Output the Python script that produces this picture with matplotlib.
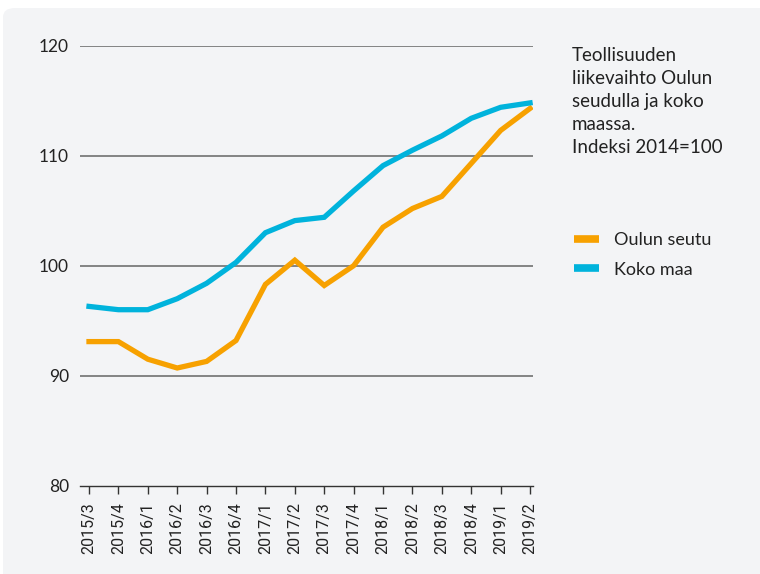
import matplotlib
matplotlib.use('Agg')
import matplotlib.pyplot as plt
import matplotlib.patches as mpatch
from matplotlib.lines import Line2D

# quarters on the x axis
quarters = ['2015/3', '2015/4', '2016/1', '2016/2', '2016/3', '2016/4',
            '2017/1', '2017/2', '2017/3', '2017/4', '2018/1', '2018/2',
            '2018/3', '2018/4', '2019/1', '2019/2']

# index 2014=100
oulun_seutu = [93.1, 93.1, 91.5, 90.7, 91.3, 93.2, 98.3, 100.5,
               98.2, 100.0, 103.5, 105.2, 106.3, 109.3, 112.3, 114.3]
koko_maa = [96.3, 96.0, 96.0, 97.0, 98.4, 100.3, 103.0, 104.1,
            104.4, 106.8, 109.1, 110.5, 111.8, 113.4, 114.4, 114.8]

y_ticks = [80, 90, 100, 110, 120]

title_text = 'Teollisuuden\nliikevaihto Oulun\nseudulla ja koko\nmaassa.\nIndeksi 2014=100'
series_names = ['Oulun seutu', 'Koko maa']

orange = '#f7a100'
blue = '#00b3dc'
panel = '#f3f4f6'

W, H = 760, 574
fig = plt.figure(figsize=(W / 100, H / 100), dpi=100)
fig.patch.set_facecolor('white')

# light grey rounded panel behind everything
bg = mpatch.FancyBboxPatch((3 / W, -0.05), 1.1, (H - 8) / H + 0.05,
                           boxstyle='round,pad=0,rounding_size=0.016',
                           transform=fig.transFigure, facecolor=panel,
                           edgecolor='none', zorder=-5)
fig.patches.append(bg)

ax = fig.add_axes([80 / W, 1 - 485.7 / H, (533 - 80) / W, (485.7 - 45.7) / H])
ax.set_facecolor('none')
ax.set_zorder(2)

x = list(range(len(quarters)))
ax.plot(x, oulun_seutu, color=orange, linewidth=3.8, solid_joinstyle='miter', zorder=3)
ax.plot(x, koko_maa, color=blue, linewidth=3.8, solid_joinstyle='miter', zorder=3)

ax.set_xlim(-0.306, 15.1)
ax.set_ylim(80, 120)

for v in y_ticks[1:]:
    ax.axhline(v, color='#707070', linewidth=1.2, zorder=1)

for s in ['top', 'right', 'left']:
    ax.spines[s].set_visible(False)
ax.spines['bottom'].set_color('#333333')
ax.spines['bottom'].set_linewidth(1.0)

ax.set_yticks(y_ticks)
ax.set_yticklabels([str(v) for v in y_ticks], fontsize=12.5, fontfamily='Lato', color='#222222')
ax.tick_params(axis='y', length=0, pad=8)

ax.set_xticks(x)
ax.set_xticklabels(quarters, rotation=90, fontsize=11.5,
                   fontfamily=['Liberation Sans Narrow', 'Roboto'], color='#222222')
ax.tick_params(axis='x', length=6, width=1.0, color='#333333', pad=6)

fig.text(572 / W, 1 - 47 / H, title_text, fontsize=13.5, fontfamily='Lato',
         color='#222222', va='top', ha='left', linespacing=1.43, zorder=3)

handles = [Line2D([0], [0], color=orange, linewidth=5.5, solid_capstyle='butt'),
           Line2D([0], [0], color=blue, linewidth=5.5, solid_capstyle='butt')]
fig.legend(handles, series_names, loc='upper left',
           bbox_to_anchor=(574 / W, 1 - 232 / H), frameon=False, borderpad=0,
           borderaxespad=0, prop={'family': 'Lato', 'size': 13}, handlelength=1.4,
           handletextpad=0.8, labelspacing=0.75, labelcolor='#222222')

fig.savefig('out.png', dpi=100, facecolor=fig.get_facecolor())
